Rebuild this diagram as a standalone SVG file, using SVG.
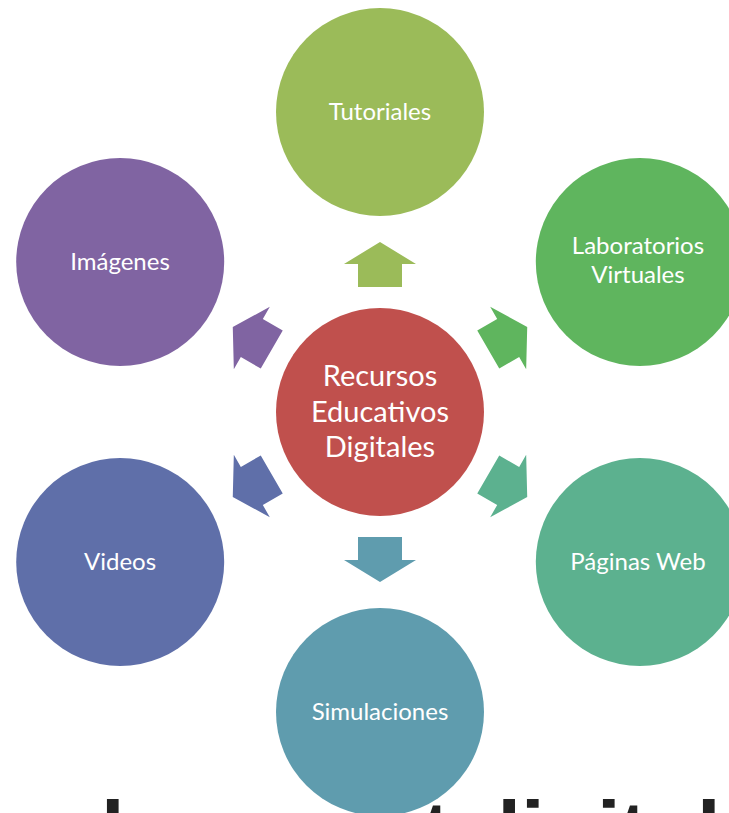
<svg xmlns="http://www.w3.org/2000/svg" xmlns:xlink="http://www.w3.org/1999/xlink" width="729" height="813" viewBox="0 0 729 813">
<style>
.lbl{font-family:Lato,"Open Sans","Liberation Sans",sans-serif;fill:#fff;text-anchor:middle;font-size:24px}
.ctr{font-size:29px}
.big{font-family:"Liberation Sans",Arial,sans-serif;font-weight:bold;font-size:85px;fill:#222}
</style>
<defs>
<path id="arr" d="M125,-22 L148,-22 L148,-36 L170,0 L148,36 L148,22 L125,22 Z"/>
</defs>
<rect width="729" height="813" fill="#fff"/>
<g id="connectors">
<use xlink:href="#arr" href="#arr" fill="#9BBB59" transform="translate(380 412) rotate(-90)"/>
<use xlink:href="#arr" href="#arr" fill="#5FB55E" transform="translate(380 412) rotate(-30)"/>
<use xlink:href="#arr" href="#arr" fill="#5CB18F" transform="translate(380 412) rotate(30)"/>
<use xlink:href="#arr" href="#arr" fill="#5F9CAE" transform="translate(380 412) rotate(90)"/>
<use xlink:href="#arr" href="#arr" fill="#5F6FA9" transform="translate(380 412) rotate(150)"/>
<use xlink:href="#arr" href="#arr" fill="#8064A2" transform="translate(380 412) rotate(-150)"/>
</g>
<g id="centro">
<circle cx="380" cy="412" r="104" fill="#C0504D"/>
<text class="lbl ctr" x="380" y="386">Recursos</text>
<text class="lbl ctr" x="380" y="422">Educativos</text>
<text class="lbl ctr" x="380" y="457">Digitales</text>
</g>
<g id="tutoriales">
<circle cx="380" cy="112" r="104" fill="#9BBB59"/>
<text class="lbl" x="380" y="120">Tutoriales</text>
</g>
<g id="laboratorios">
<circle cx="639.8" cy="262" r="104" fill="#5FB55E"/>
<text class="lbl" x="638" y="254">Laboratorios</text>
<text class="lbl" x="638" y="283">Virtuales</text>
</g>
<g id="paginas">
<circle cx="639.8" cy="562" r="104" fill="#5CB18F"/>
<text class="lbl" x="638" y="570">Páginas Web</text>
</g>
<g id="simulaciones">
<circle cx="380" cy="712" r="104" fill="#5F9CAE"/>
<text class="lbl" x="380" y="720">Simulaciones</text>
</g>
<g id="videos">
<circle cx="120.2" cy="562" r="104" fill="#5F6FA9"/>
<text class="lbl" x="120" y="570">Videos</text>
</g>
<g id="imagenes">
<circle cx="120.2" cy="262" r="104" fill="#8064A2"/>
<text class="lbl" x="120" y="270">Imágenes</text>
</g>
<g id="titulo">
<text class="big" x="101" y="861">l</text>
<text class="big" x="422" y="861">t</text>
<text class="big" x="469 521 545 597 619 647 697" y="861">digital</text>
</g>
</svg>
